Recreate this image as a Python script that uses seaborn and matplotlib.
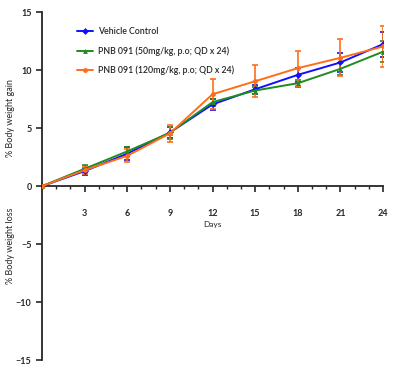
import numpy as np
import pandas as pd
import matplotlib
matplotlib.use("Agg")
import matplotlib.pyplot as plt
from matplotlib.ticker import MultipleLocator
import seaborn as sns

# ======================
# Data
# ======================
days = [0, 3, 6, 9, 12, 15, 18, 21, 24]
groups = ["Vehicle Control",
          "PNB 091 (50mg/kg, p.o; QD x 24)",
          "PNB 091 (120mg/kg, p.o; QD x 24)"]
vehicle = [0, 1.3, 2.8, 4.63, 7.05, 8.36, 9.6, 10.67, 12.25]
vehicle_err = [0, 0.3, 0.55, 0.5, 0.5, 0.4, 0.6, 0.85, 1.07]
pnb50 = [0, 1.5, 3.0, 4.6, 7.25, 8.25, 8.88, 10.12, 11.6]
pnb50_err = [0, 0.3, 0.4, 0.5, 0.3, 0.3, 0.3, 0.5, 0.9]
pnb120 = [0, 1.38, 2.62, 4.55, 7.93, 9.05, 10.18, 11.07, 12.05]
pnb120_err = [0, 0.3, 0.55, 0.7, 1.3, 1.4, 1.5, 1.6, 1.75]
xticks = [3, 6, 9, 12, 15, 18, 21, 24]
yticks = [-15, -10, -5, 0, 5, 10, 15]

colors = ["#1010ff", "#1e8c1e", "#ff6d1a"]
markers = ["D", "^", "o"]

df = pd.concat([
    pd.DataFrame({"day": days, "gain": v, "err": e, "group": g})
    for g, v, e in zip(groups, [vehicle, pnb50, pnb120],
                       [vehicle_err, pnb50_err, pnb120_err])
])

sns.set_style("ticks")
plt.rcParams["font.family"] = ["Lato", "DejaVu Sans"]

fig = plt.figure(figsize=(3.94, 3.68), dpi=100)
ax = fig.add_axes([0.1066, 0.0217, 0.8655, 0.9449])

for g, c, m in zip(groups, colors, markers):
    sub = df[df["group"] == g]
    ax.errorbar(sub["day"], sub["gain"], yerr=sub["err"], fmt="none",
                ecolor=c, elinewidth=1.2, capsize=2.5, capthick=1.2, zorder=2)

sns.lineplot(data=df, x="day", y="gain", hue="group", style="group",
             palette=colors, markers=markers, dashes=False, markersize=3.5,
             markeredgewidth=0, linewidth=1.4, ax=ax, zorder=3)

ax.set_xlim(0, 24)
ax.set_ylim(-15, 15)
ax.spines["right"].set_visible(False)
ax.spines["top"].set_visible(False)
ax.spines["bottom"].set_position(("data", 0))
ax.spines["left"].set_linewidth(1.3)
ax.spines["bottom"].set_linewidth(1.3)

ax.set_xticks(xticks)
ax.xaxis.set_minor_locator(MultipleLocator(1))
ax.set_yticks(yticks)
ax.tick_params(axis="x", which="major", direction="out", length=4, width=1.2,
               pad=12.5, labelsize=6.5)
ax.tick_params(axis="x", which="minor", direction="out", length=2.5, width=1)
ax.tick_params(axis="y", direction="out", length=4, width=1.2, labelsize=6.5)
for lab in ax.get_xticklabels() + ax.get_yticklabels():
    lab.set_fontweight("bold")

ax.set_xlabel("")
ax.set_ylabel("")
ax.text(12, -3.3, "Days", ha="center", va="center", fontsize=6)
ax.text(-0.092, 5.9, "% Body weight gain", rotation=90, ha="center",
        va="center", fontsize=6.5, transform=ax.get_yaxis_transform())
ax.text(-0.092, -5.1, "% Body weight loss", rotation=90, ha="center",
        va="center", fontsize=6.5, transform=ax.get_yaxis_transform())

leg = ax.legend(loc="upper left", bbox_to_anchor=(0.08, 0.98), frameon=False,
                fontsize=6.3, handlelength=1.8, labelspacing=1.15, handletextpad=0.6)
for t in leg.get_texts():
    t.set_fontweight("semibold")

fig.savefig("out.png", dpi=100)
